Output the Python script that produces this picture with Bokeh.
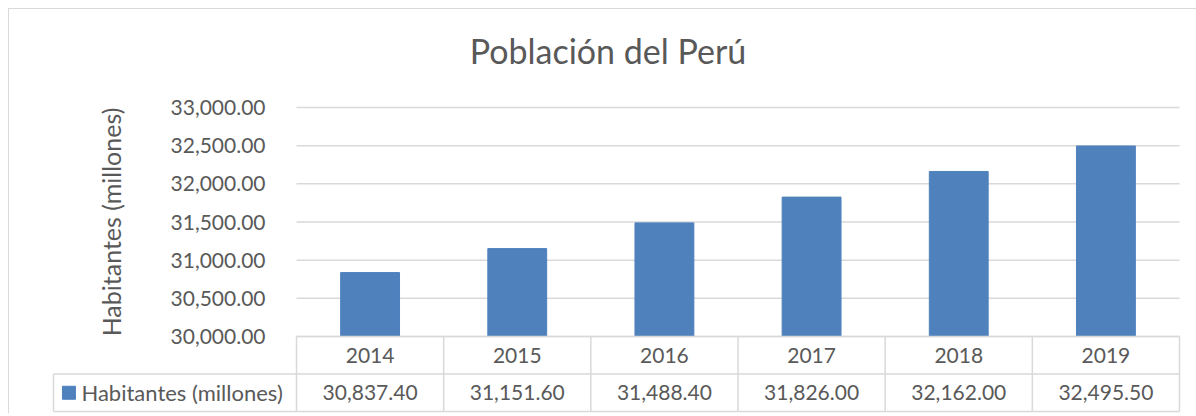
import math
from bokeh.plotting import figure
from bokeh.models import Range1d, FixedTicker, NumeralTickFormatter
from bokeh.core.properties import value
from bokeh.embed import file_html
from bokeh.resources import INLINE

# ---------------- data ----------------
years = ["2014", "2015", "2016", "2017", "2018", "2019"]
habitantes = [30837.40, 31151.60, 31488.40, 31826.00, 32162.00, 32495.50]
y_ticks = [30000, 30500, 31000, 31500, 32000, 32500, 33000]
title_text = "Población del Perú"
series_name = "Habitantes (millones)"

FONT = "Lato"
TXT = "#595959"
GRID = "#d9d9d9"
BAR = "#4F81BD"

# ---------------- geometry (pixels) ----------------
n = len(years)
PLOT_W = 883            # width of the plotting area (6 columns)
COL = PLOT_W / n        # one category column
LEG_W = 243             # legend column of the data table
PLOT_H = 229            # plotting area height
ROW_H = 37.5            # data table row height
PAD = 2
TOP_PAD = 88            # space above the plotting area (title zone)
FRAME_W = LEG_W + PLOT_W + 2 * PAD
FRAME_H = TOP_PAD + PLOT_H + 2 * ROW_H + PAD

LEG = LEG_W / COL       # legend column width in column units
ymin, ymax = y_ticks[0], y_ticks[-1]
u = (ymax - ymin) / PLOT_H   # data units per pixel
y_start = ymin - (2 * ROW_H + PAD) * u
y_end = ymax + TOP_PAD * u
t_start = -PAD / ROW_H
t_end = t_start + FRAME_H / ROW_H

p = figure(x_range=Range1d(-LEG - PAD / COL, n + PAD / COL),
           y_range=Range1d(y_start, y_end),
           frame_width=int(round(FRAME_W)), frame_height=int(round(FRAME_H)),
           min_border_left=42, min_border_right=1187 - 42 - int(round(FRAME_W)),
           min_border_top=10, min_border_bottom=0,
           x_axis_location=None, toolbar_location=None, output_backend="svg",
           outline_line_color=None, background_fill_color="white",
           border_fill_color="white",
           styles={"border-top": "1px solid #d9d9d9", "border-left": "1px solid #d9d9d9",
                   "margin-left": "8px", "margin-top": "8px"})
p.extra_y_ranges = {"table": Range1d(t_start, t_end)}
p.grid.visible = False

# chart title (centred on the whole chart area)
p.text(x=[(607.5 - 296) / COL], y=[ymax + 57 * u], text=[title_text],
       text_align="center", text_baseline="alphabetic",
       text_font=value(FONT), text_font_size="34px", text_color=TXT)

# horizontal gridlines over the plotting area
p.segment(x0=[0] * len(y_ticks), y0=y_ticks, x1=[n] * len(y_ticks), y1=y_ticks,
          line_color=GRID, line_width=1.5)

# bars
cx = [i + 0.5 for i in range(n)]
p.vbar(x=cx, top=habitantes, bottom=ymin, width=0.4,
       fill_color=BAR, line_color=BAR)

# value axis, fixed at the left edge of the plotting area
ya = p.yaxis[0]
ya.fixed_location = 0
ya.ticker = FixedTicker(ticks=y_ticks)
ya.formatter = NumeralTickFormatter(format="0,0.00")
ya.axis_line_color = None
ya.major_tick_line_color = None
ya.minor_tick_line_color = None
ya.major_label_standoff = 25
ya.major_label_text_font = FONT
ya.major_label_text_font_size = "21px"
ya.major_label_text_color = TXT

# axis title
p.text(x=[-LEG + (110 - 53) / COL], y=[(ymin + ymax) / 2], text=[series_name],
       angle=math.pi / 2, text_align="center", text_baseline="middle",
       text_font=value(FONT), text_font_size="25px", text_color=TXT)

# ---------------- data table ----------------
hx0 = [0, -LEG, -LEG]
hy = [2, 1, 0]
p.segment(x0=hx0, y0=hy, x1=[n] * 3, y1=hy, line_color=GRID, line_width=1.5,
          y_range_name="table")
vx = [-LEG] + list(range(n + 1))
vy0 = [0] * (n + 2)
vy1 = [1] + [2] * (n + 1)
p.segment(x0=vx, y0=vy0, x1=vx, y1=vy1, line_color=GRID, line_width=1.5,
          y_range_name="table")

p.text(x=cx, y=[1.5] * n, text=years, text_align="center", text_baseline="middle",
       text_font=value(FONT), text_font_size="21px", text_color=TXT,
       y_range_name="table")
p.text(x=cx, y=[0.5] * n, text=["{:,.2f}".format(v) for v in habitantes],
       text_align="center", text_baseline="middle",
       text_font=value(FONT), text_font_size="21px", text_color=TXT,
       y_range_name="table")

# legend key inside the table
p.scatter(x=[-LEG + 0.105], y=[0.5], marker="square", size=13,
          fill_color=BAR, line_color=BAR, y_range_name="table")
p.text(x=[-LEG + 0.19], y=[0.5], text=[series_name], text_align="left",
       text_baseline="middle", text_font=value(FONT), text_font_size="22px",
       text_color=TXT, y_range_name="table")

open("out.html", "w").write(file_html(p, INLINE))
